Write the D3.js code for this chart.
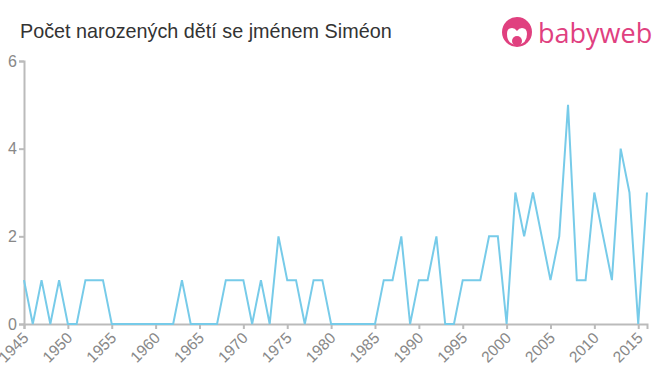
<!DOCTYPE html>
<html>
<head>
<meta charset="utf-8">
<script src="https://cdn.jsdelivr.net/npm/d3@7"></script>
<style>
  body { margin: 0; background: #fff; }
  svg { font-family: "Liberation Sans", Arial, sans-serif; }
</style>
</head>
<body>
<svg width="660" height="375"></svg>
<script>
// births per year, name Siméon
var years = d3.range(1945, 2017);
var counts = [1,0,1,0,1,0,0,1,1,1, 0,0,0,0,0,0,0,0,1,0,
              0,0,0,1,1,1,0,1,0,2, 1,1,0,1,1,0,0,0,0,0,
              0,1,1,2,0,1,1,2,0,0, 1,1,1,2,2,0,3,2,3,2,
              1,2,5,1,1,3,2,1,4,3, 0,3];
var yTicks = [0, 2, 4, 6];
var xTicks = d3.range(1945, 2016, 5);

var svg = d3.select("svg"),
    margin = {top: 61, right: 13, bottom: 51, left: 24},
    width = +svg.attr("width") - margin.left - margin.right,
    height = +svg.attr("height") - margin.top - margin.bottom;

var data = years.map(function(y, i) { return {year: y, count: counts[i]}; });

var x = d3.scaleLinear().domain([1945, 2016]).range([0, width]);
var y = d3.scaleLinear().domain([0, 6]).range([height, 0]);

var g = svg.append("g").attr("transform", "translate(" + margin.left + "," + margin.top + ")");

// title
svg.append("text")
    .attr("x", 20).attr("y", 38)
    .attr("font-size", 19.8)
    .attr("fill", "#333")
    .text("Počet narozených dětí se jménem Siméon");

// logo
var logo = svg.append("g").attr("transform", "translate(517,32)");
logo.append("circle").attr("r", 15).attr("fill", "#e0407f");
logo.append("path")
    .attr("d", "M-10,2 Q-10,-4 -5,-4 Q-2,-4 0,-1 Q2,-4 5,-4 Q10,-4 10,2 Q10,12 0,13 Q-10,12 -10,2 Z")
    .attr("fill", "#fff");
logo.append("circle").attr("cx", 0).attr("cy", 9).attr("r", 5).attr("fill", "#e0407f");
svg.append("text")
    .attr("x", 538).attr("y", 43)
    .attr("font-size", 27)
    .attr("font-family", "'Open Sans', sans-serif")
    .attr("fill", "#e0407f")
    .text("babyweb");

// y axis
var yAxis = g.append("g")
    .call(d3.axisLeft(y).tickValues(yTicks).tickFormat(d3.format("d")).tickSize(5).tickPadding(2));
yAxis.select(".domain").attr("stroke", "#bbb").attr("stroke-width", 2);
yAxis.selectAll(".tick line").attr("stroke", "#bbb").attr("stroke-width", 2);
yAxis.selectAll(".tick text").attr("font-size", 16).attr("fill", "#888")
    .attr("font-family", "'Liberation Sans', Arial, sans-serif");

// x axis
var xAxis = g.append("g")
    .attr("transform", "translate(0," + height + ")")
    .call(d3.axisBottom(x).tickValues(xTicks).tickFormat(d3.format("d")).tickSize(5));
xAxis.select(".domain").attr("stroke", "#bbb").attr("stroke-width", 2);
xAxis.selectAll(".tick line").attr("stroke", "#bbb").attr("stroke-width", 2);
xAxis.selectAll(".tick text")
    .attr("font-size", 15.5).attr("fill", "#888")
    .attr("font-family", "'Liberation Sans', Arial, sans-serif")
    .attr("text-anchor", "end")
    .attr("x", 0).attr("y", 0).attr("dy", 0)
    .attr("transform", "translate(5,15) rotate(-45)");

// line
var line = d3.line()
    .x(function(d) { return x(d.year); })
    .y(function(d) { return y(d.count); });

g.append("path")
    .datum(data)
    .attr("fill", "none")
    .attr("stroke", "#77cbe9")
    .attr("stroke-width", 2)
    .attr("d", line);
</script>
</body>
</html>
